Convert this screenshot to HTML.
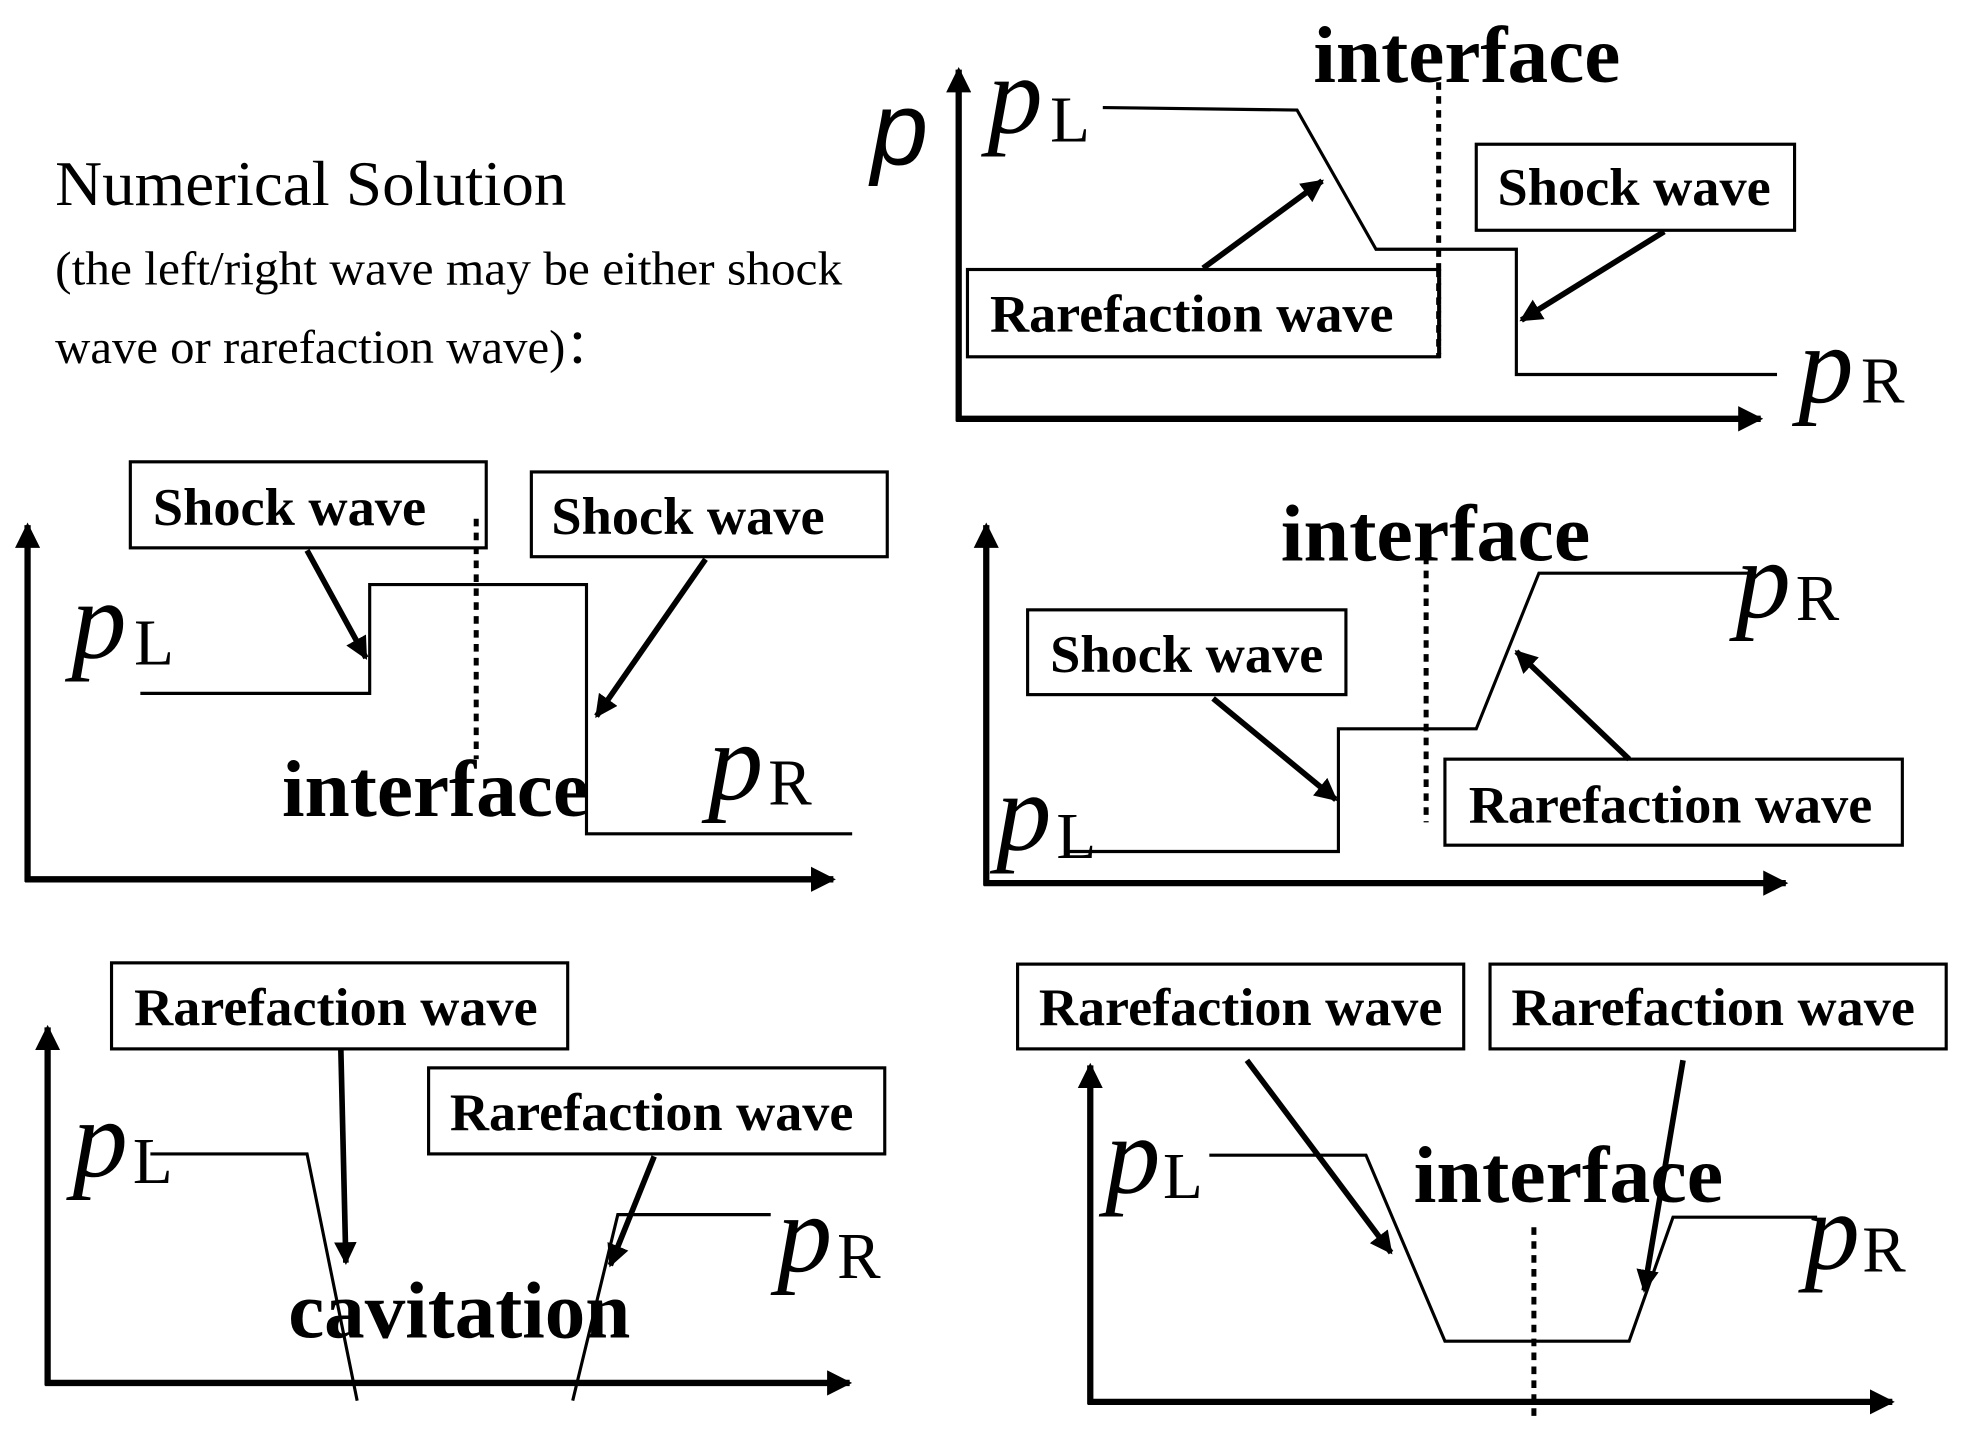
<!DOCTYPE html>
<html><head><meta charset="utf-8"><style>html,body{margin:0;padding:0;background:#fff}svg{display:block}</style></head>
<body>
<svg width="1965" height="1431" viewBox="0 0 1568 1131" preserveAspectRatio="none" xmlns="http://www.w3.org/2000/svg">
<defs>
<marker id="ah" viewBox="0 0 10 10" refX="9" refY="5" markerWidth="4" markerHeight="4" orient="auto" markerUnits="strokeWidth"><path d="M0,0 L10,5 L0,10 z" fill="#000"/></marker>
<marker id="ax" viewBox="0 0 10 10" refX="9" refY="5" markerWidth="4" markerHeight="4" orient="auto" markerUnits="strokeWidth"><path d="M0,0 L10,5 L0,10 z" fill="#000"/></marker>
</defs>
<style>
.ax{stroke:#000;stroke-width:5;fill:none;marker-end:url(#ax)}
.ar{stroke:#000;stroke-width:4.5;fill:none;marker-end:url(#ah)}
.ln{stroke:#000;stroke-width:2.5;fill:none}
.dt{stroke:#000;stroke-width:4;stroke-dasharray:6 5;fill:none}
.bx{stroke:#000;stroke-width:2.5;fill:#fff}
.lb{font-family:"Liberation Serif",serif;font-weight:bold;font-size:42px}
.it{font-family:"Liberation Serif",serif;font-weight:bold;font-size:64px}
.p{font-family:"Liberation Serif",serif;font-style:italic;font-size:88px}
.s{font-family:"Liberation Serif",serif;font-size:52px}
</style>

<!-- intro text -->
<text x="44" y="162" font-family="Liberation Serif,serif" font-size="50" textLength="408" lengthAdjust="spacingAndGlyphs">Numerical Solution</text>
<text x="44" y="225" font-family="Liberation Serif,serif" font-size="38" textLength="628" lengthAdjust="spacingAndGlyphs">(the left/right wave may be either shock</text>
<text x="44" y="287" font-family="Liberation Serif,serif" font-size="38" textLength="446" lengthAdjust="spacingAndGlyphs">wave or rarefaction wave)：</text>

<!-- Panel 1 -->
<line class="ax" x1="765" y1="333" x2="765" y2="55"/>
<line class="ax" x1="763" y1="331" x2="1405" y2="331"/>
<text x="695" y="130" font-family="Liberation Sans,sans-serif" font-style="italic" font-size="82">p</text>
<text class="p" x="788" y="105">p</text><text class="s" x="838" y="112">L</text>
<polyline class="ln" points="880,85 1035,87 1098,197 1210,197 1210,296 1418,296"/>
<line class="dt" x1="1148" y1="65" x2="1148" y2="283"/>
<text class="it" x="1048" y="65" textLength="245" lengthAdjust="spacingAndGlyphs">interface</text>
<rect class="bx" x="1178" y="114" width="254" height="68"/>
<text class="lb" x="1195" y="162" textLength="218" lengthAdjust="spacingAndGlyphs">Shock wave</text>
<line class="ar" x1="1328" y1="183" x2="1214" y2="253"/>
<rect class="bx" x="772" y="213" width="376" height="69"/>
<line class="dt" x1="1148" y1="213" x2="1148" y2="283"/>
<text class="lb" x="790" y="262" textLength="322" lengthAdjust="spacingAndGlyphs">Rarefaction wave</text>
<line class="ar" x1="960" y1="212" x2="1055" y2="143"/>
<text class="p" x="1435" y="318">p</text><text class="s" x="1485" y="318">R</text>

<!-- Panel 2 -->
<line class="ax" x1="22" y1="697" x2="22" y2="415"/>
<line class="ax" x1="20" y1="695" x2="665" y2="695"/>
<text class="p" x="57" y="520">p</text><text class="s" x="107" y="525">L</text>
<polyline class="ln" points="112,548 295,548 295,462 468,462 468,659 680,659"/>
<rect class="bx" x="104" y="365" width="284" height="68"/>
<text class="lb" x="122" y="415" textLength="218" lengthAdjust="spacingAndGlyphs">Shock wave</text>
<line class="dt" x1="380" y1="410" x2="380" y2="600"/>
<line class="ar" x1="245" y1="435" x2="292" y2="520"/>
<rect class="bx" x="424" y="373" width="284" height="67"/>
<text class="lb" x="440" y="422" textLength="218" lengthAdjust="spacingAndGlyphs">Shock wave</text>
<line class="ar" x1="563" y1="442" x2="476" y2="566"/>
<text class="it" x="225" y="645" textLength="245" lengthAdjust="spacingAndGlyphs">interface</text>
<text class="p" x="565" y="632">p</text><text class="s" x="613" y="636">R</text>

<!-- Panel 3 -->
<line class="ax" x1="787" y1="700" x2="787" y2="415"/>
<line class="ax" x1="785" y1="698" x2="1425" y2="698"/>
<polyline class="ln" points="852,673 1068,673 1068,576 1178,576 1228,453 1395,453"/>
<line class="dt" x1="1138" y1="440" x2="1138" y2="650"/>
<text class="it" x="1022" y="443" textLength="247" lengthAdjust="spacingAndGlyphs">interface</text>
<text class="p" x="1385" y="488">p</text><text class="s" x="1433" y="490">R</text>
<rect class="bx" x="820" y="482" width="254" height="67"/>
<text class="lb" x="838" y="531" textLength="218" lengthAdjust="spacingAndGlyphs">Shock wave</text>
<line class="ar" x1="968" y1="552" x2="1066" y2="632"/>
<rect class="bx" x="1153" y="600" width="365" height="68"/>
<text class="lb" x="1172" y="650" textLength="322" lengthAdjust="spacingAndGlyphs">Rarefaction wave</text>
<line class="ar" x1="1300" y1="600" x2="1210" y2="515"/>
<text class="p" x="795" y="672">p</text><text class="s" x="843" y="678">L</text>

<!-- Panel 4 -->
<line class="ax" x1="38" y1="1095" x2="38" y2="812"/>
<line class="ax" x1="36" y1="1093" x2="678" y2="1093"/>
<polyline class="ln" points="120,912 245,912 285,1107"/>
<polyline class="ln" points="457,1107 493,960 615,960"/>
<rect class="bx" x="89" y="761" width="364" height="68"/>
<text class="lb" x="107" y="810" textLength="322" lengthAdjust="spacingAndGlyphs">Rarefaction wave</text>
<line class="ar" x1="272" y1="830" x2="276" y2="998"/>
<rect class="bx" x="342" y="844" width="364" height="68"/>
<text class="lb" x="359" y="893" textLength="322" lengthAdjust="spacingAndGlyphs">Rarefaction wave</text>
<line class="ar" x1="522" y1="914" x2="487" y2="1000"/>
<text class="p" x="58" y="930">p</text><text class="s" x="106" y="935">L</text>
<text class="p" x="620" y="1005">p</text><text class="s" x="668" y="1010">R</text>
<text class="it" x="230" y="1057" textLength="273" lengthAdjust="spacingAndGlyphs">cavitation</text>

<!-- Panel 5 -->
<line class="ax" x1="870" y1="1110" x2="870" y2="842"/>
<line class="ax" x1="868" y1="1108" x2="1510" y2="1108"/>
<polyline class="ln" points="965,913 1090,913 1153,1060 1300,1060 1335,962 1450,962"/>
<line class="dt" x1="1224" y1="970" x2="1224" y2="1120"/>
<rect class="bx" x="812" y="762" width="356" height="67"/>
<text class="lb" x="829" y="810" textLength="322" lengthAdjust="spacingAndGlyphs">Rarefaction wave</text>
<rect class="bx" x="1189" y="762" width="364" height="67"/>
<text class="lb" x="1206" y="810" textLength="322" lengthAdjust="spacingAndGlyphs">Rarefaction wave</text>
<text class="it" x="1128" y="950" textLength="247" lengthAdjust="spacingAndGlyphs">interface</text>
<line class="ar" x1="995" y1="838" x2="1110" y2="990"/>
<line class="ar" x1="1343" y1="838" x2="1312" y2="1020"/>
<text class="p" x="882" y="943">p</text><text class="s" x="928" y="947">L</text>
<text class="p" x="1440" y="1003">p</text><text class="s" x="1486" y="1005">R</text>
</svg>
</body></html>
